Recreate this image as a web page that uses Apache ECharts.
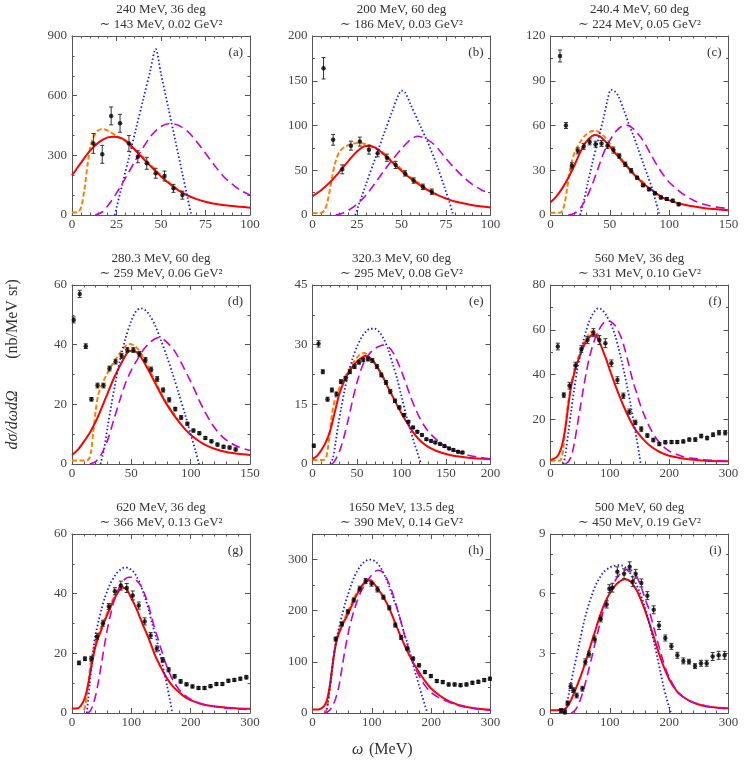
<!DOCTYPE html>
<html><head><meta charset="utf-8">
<script src="https://cdn.jsdelivr.net/npm/echarts@6/dist/echarts.min.js"></script>
<style>html,body{margin:0;padding:0;background:#fff}#c{width:747px;height:761px}</style>
</head><body><div id="c"></div>
<script>
// ---------- titles ----------
const titles1 = ['240 MeV, 36 deg','200 MeV, 60 deg','240.4 MeV, 60 deg','280.3 MeV, 60 deg','320.3 MeV, 60 deg','560 MeV, 36 deg','620 MeV, 36 deg','1650 MeV, 13.5 deg','500 MeV, 60 deg'];
const titles2 = ['∼ 143 MeV, 0.02 GeV²','∼ 186 MeV, 0.03 GeV²','∼ 224 MeV, 0.05 GeV²','∼ 259 MeV, 0.06 GeV²','∼ 295 MeV, 0.08 GeV²','∼ 331 MeV, 0.10 GeV²','∼ 366 MeV, 0.13 GeV²','∼ 390 MeV, 0.14 GeV²','∼ 450 MeV, 0.19 GeV²'];
const letters = ['(a)','(b)','(c)','(d)','(e)','(f)','(g)','(h)','(i)'];
const xMaxs = [100,100,150,150,200,300,300,300,300];
const xInts = [25,25,50,50,50,100,100,100,100];
const yMaxs = [900,200,120,60,45,80,60,350,9];
const yInts = [300,50,30,20,15,20,20,100,3];
const yMinors = [3,2,2,2,2,2,2,2,3];

// ---------- (a) ----------
const a_x = [12,17,22,27,32,37,42,47,52,57,62];
const a_y = [360,305,498,461,360,293,260,210,196,134,100];
const a_err = [50,45,45,45,40,30,30,25,25,20,20];
const a_red = [[0,200],[5,262],[10,322],[15,365],[20,390],[24,394],[28,385],[32,360],[36,322],[40,284],[45,238],[50,194],[55,156],[60,123],[65,98],[70,80],[75,67],[80,57],[90,45],[100,37]];
const a_orange = [[0,13],[3,14],[5,35],[7,130],[9,270],[11,365],[14,420],[17,432],[20,424],[25,398],[30,372],[35,330],[40,290],[45,244],[50,200],[55,160],[60,126],[65,100]];
const a_blue = [[24,0],[28,145],[32,290],[36,436],[40,581],[44,726],[47,835],[50,710],[54,543],[58,376],[62,209],[65,84],[67,0]];
const a_mag = [[13,0],[17,15],[20,45],[25,110],[30,185],[35,265],[40,340],[45,405],[50,445],[55,460],[60,450],[65,420],[70,370],[75,310],[80,250],[85,195],[90,155],[95,122],[100,100]];

// ---------- (b) ----------
const b_x = [6.2,11.6,16.7,21.6,26.6,31.7,36.6,41.8,46.7,52,56.8,62,67];
const b_y = [164,84,51,77.5,82,73,69,64,56,46.5,38.5,31.5,26];
const b_err = [12,6,5,5,5,5,4,4,4,3,3,3,3];
const b_red = [[0,21],[5,28],[10,37],[15,48],[20,60],[25,71],[30,77],[35,75.5],[40,68],[45,58.5],[50,49.5],[55,41],[60,34],[65,27.5],[70,22.5],[75,18.5],[80,15],[90,11],[100,8.5]];
const b_orange = [[0,2],[5,2.5],[7,6],[9,20],[11,42],[13,60],[15,70],[18,76],[22,79.5],[26,80.5],[30,79],[35,75.5],[40,69],[45,60],[50,51],[55,42],[60,35],[65,28.3],[70,23]];
const b_blue = [[24,0],[30,34],[35,62],[40,90],[45,117],[48,133],[50,139],[52,137],[55,124],[60,102],[65,80],[70,55],[74,32],[77,14],[79,0]];
const b_mag = [[13,0],[16,1.5],[20,5],[25,12],[30,22],[35,35],[40,49],[45,62],[50,74],[55,84],[59,88],[63,86],[67,81],[71,73],[75,63],[80,52],[85,42],[90,34],[95,28],[100,23.5]];

// ---------- (c) ----------
const c_x = [8,13,18,23,28,33,38,43,48,53,58,63,68,73,78,83,88,93,98,103,108];
const c_y = [106.6,60,33,43,46,49,47.5,48,46.5,43.5,39.5,34,29.7,25,20,17.2,14.5,11.8,10.7,9.6,7.2];
const c_err = [4,2,2,2,2,2,2,2,2,2,1.5,1.5,1.5,1,1,1,1,1,1,1,1];
const c_red = [[0,8.5],[5,12.5],[10,18],[15,25],[20,33],[25,42],[30,49],[35,53],[38,53.7],[42,52.5],[46,49.5],[50,46],[55,41],[60,36.5],[65,32],[70,27.5],[75,23.5],[80,20],[85,17],[90,14],[95,11.5],[100,9.8],[110,7.4],[120,5.8],[130,4.6],[140,3.8],[150,3.2]];
const c_orange = [[0,1.5],[8,1.5],[10,3],[12,8],[14,18],[16,28],[18,36],[20,41],[25,49],[30,54],[35,56.3],[38,56.5],[42,55],[46,52],[50,48],[55,42.5],[60,37.5],[65,32.5],[70,28],[75,24],[80,20.5]];
const c_blue = [[25,0],[28,9],[31,20],[35,34],[40,50],[45,66],[48,77],[51,84],[54,83],[57,80],[62,70],[66,61],[70,53],[74,44],[78,35],[82,26],[86,17],[89,8],[92,0]];
const c_mag = [[15,0],[20,1],[25,4.5],[30,11],[35,20],[40,31],[45,42],[50,50],[55,56],[60,59.5],[63,60.3],[67,59.5],[72,56],[78,50],[85,40],[90,33],[95,27],[100,22],[105,18.5],[110,15],[120,10],[130,7],[140,5.3],[150,4.3]];

// ---------- (d) ----------
const d_x = [1.4,6.5,11.6,16.4,21.5,26.6,31.6,36.7,41.8,46.6,51.7,56.8,61.9,66.7,71.8,76.8,81.9,87,92,97.2,102.3,107.3,112.4,117.5,122.6,127.7,132.8,137.9];
const d_y = [48.3,57,39.5,21.7,26.3,26.3,32,34.3,36.2,38.2,38.2,36.9,34.9,31.7,28.5,24.8,21.5,18.4,15.6,13.5,11.2,10.3,8.7,7.6,6.5,5.8,5.5,4.9];
const d_err = [1,1.2,0.8,0.6,0.8,0.8,0.8,0.8,0.8,0.8,0.8,0.8,0.8,0.8,0.8,0.7,0.7,0.6,0.6,0.5,0.5,0.5,0.5,0.5,0.5,0.5,0.5,0.5];
const d_red = [[0,3],[5,4.8],[10,7.5],[15,10.5],[20,14.2],[25,18.8],[30,23.7],[35,28.5],[40,32.6],[45,36.3],[48,37.8],[52,38],[56,36.9],[60,34.6],[65,31],[70,27.2],[75,23.4],[80,19.9],[85,16.9],[90,14.2],[95,11.8],[100,9.8],[105,8.2],[110,6.9],[115,5.9],[120,5.1],[130,4],[140,3.4],[150,3]];
const d_orange = [[0,1.2],[10,1.2],[14,1.5],[16,4],[18,11],[20,18],[22,23],[25,26.5],[30,30.5],[35,34],[40,37],[45,39.5],[48,40.2],[52,39.8],[56,38.3],[60,35.8],[65,31.8],[70,27.8],[75,23.8],[80,20.2],[85,17.2],[90,14.5]];
const d_blue = [[24,0],[27,5],[30,12.5],[33,19.5],[36,26],[40,34],[45,42],[50,48],[54,51.2],[58,52.2],[62,51.5],[66,49.5],[70,46.5],[75,41.5],[80,36],[85,30],[90,23.5],[95,17],[100,10],[104,4.5],[107,0]];
const d_mag = [[15,0],[20,0.8],[25,3.5],[30,8],[35,14.5],[40,21],[45,27],[50,31.5],[55,35],[60,38.2],[65,40.5],[70,42],[73,42.3],[77,41.8],[82,40],[87,37.5],[92,34],[97,30],[102,26],[107,21.5],[112,17.5],[117,14],[122,11.2],[127,9],[132,7.5],[140,5.8],[150,4.5]];

// ---------- (e) ----------
const e_x = [1.5,6.8,11.6,16.9,21.8,27,31.9,37.1,42,47.3,52.2,57,62.3,67.2,72.4,77.3,82.6,87.4,92.7,97.6,102.8,107.7,113,117.8,123,128,133.2,138,143.3,148.2,153.5,158.3,163.6,168.5];
const e_y = [4.6,30.2,23.2,16.3,18.6,17.6,20.7,21.5,23.2,24.5,25.6,26.2,26.4,26,24.5,22.4,20.5,18.2,15.9,14.2,12.3,10.6,9.2,8.1,7.3,6.2,5.8,5.4,5,4.5,3.9,3.5,3.1,2.9];
const e_err = [0.4,0.8,0.5,0.5,0.5,0.5,0.5,0.5,0.5,0.5,0.5,0.5,0.5,0.5,0.5,0.5,0.5,0.5,0.4,0.4,0.4,0.3,0.3,0.3,0.3,0.3,0.3,0.3,0.3,0.3,0.3,0.3,0.3,0.3];
const e_red = [[0,1.3],[5,2],[10,3.5],[15,5.5],[20,8.5],[25,13],[30,17.5],[35,20.5],[40,22.8],[45,24.5],[50,25.8],[55,26.7],[60,27.2],[65,26.6],[70,25.3],[75,23.5],[80,21.5],[85,19.2],[90,17],[95,14.8],[100,12.7],[105,10.8],[110,9],[115,7.4],[120,6.1],[125,5.1],[130,4.3],[140,3.2],[150,2.5],[160,2],[175,1.6],[200,1.2]];
const e_orange = [[0,1],[12,1],[15,1.5],[17,3.5],[19,7],[21,11],[23,14],[26,16.8],[30,19],[35,21.3],[40,23.3],[45,25.2],[50,26.8],[55,27.7],[58,27.9],[62,27.4],[66,26.3],[70,25.4],[75,23.6],[80,21.7],[85,19.4]];
const e_blue = [[20,0],[23,1.5],[26,5.5],[29,10],[32,13.8],[36,18.5],[40,22.5],[45,26.5],[50,29.5],[55,31.8],[60,33.3],[65,34],[70,34],[75,33.2],[80,31.5],[85,28.8],[90,25.3],[95,21.5],[100,17],[105,12.5],[110,8.5],[115,4.8],[118,2.8],[122,0]];
const e_mag = [[22,0],[25,0.8],[30,3],[35,6.5],[40,11],[45,16],[50,20.5],[55,24],[60,26.5],[65,28],[70,29],[75,29.6],[80,29.9],[85,29.5],[90,28.2],[95,26],[100,23.3],[105,20.2],[110,17],[115,14.2],[120,11.8],[125,9.8],[130,8.2],[140,6],[150,4.4],[160,3.3],[175,2.2],[200,1.3]];

// ---------- (f) ----------
const f_x = [12.3,22.4,32,42,52,62.3,72.3,82.4,92.5,102.6,112.7,122.8,132.9,143,153,163.2,173.3,183.4,193.5,204,213.7,223.8,233.9,244,254,264,274,284,294.5];
const f_y = [52.5,30.8,35,44,51.4,55.4,58.7,55.4,54,45,37.5,30.5,23.4,18.6,15.6,12.7,10.7,8.9,9.7,9.8,9.8,10.1,10.9,10.9,12.5,11.6,13.1,14,14];
const f_err = [1.5,1,1.5,1.5,1.5,1.5,1.8,2,2,1.5,1.5,1.2,1.2,1,1,0.8,0.8,0.7,0.7,0.7,0.7,0.7,0.7,0.8,0.8,0.8,0.8,1,1];
const f_red = [[0,1.8],[10,3],[15,5],[20,9],[25,16],[30,26],[35,35],[40,40.5],[45,45],[50,48.7],[55,52],[60,54.7],[65,56.5],[70,57.6],[75,57.6],[80,56],[85,53],[90,49.5],[95,46],[100,42],[105,38.3],[110,34.6],[115,31.2],[120,27.9],[125,24.8],[130,21.9],[135,19.2],[140,16.7],[145,14.7],[150,13],[160,10],[170,7.7],[180,6],[190,4.6],[200,3.7],[220,2.6],[240,1.9],[260,1.5],[300,1.2]];
const f_orange = [[0,1.5],[15,1.5],[19,3],[22,8],[25,16],[28,24],[32,31],[36,37],[40,41.5],[45,46],[50,50],[55,53.3],[60,56],[65,58],[70,59.3],[74,59.5],[78,58.5],[82,56.5]];
const f_blue = [[22,0],[25,4],[30,14],[35,24],[40,33.5],[45,42],[50,48.5],[55,54.5],[60,59.5],[65,63.5],[70,66.5],[75,68.5],[80,69.6],[85,69.3],[90,68],[95,66],[100,63.5],[105,60.5],[110,56.5],[115,51.5],[120,46],[125,40],[130,33.5],[135,26.5],[140,19],[145,11.5],[150,3.5],[152,0]];
const f_mag = [[25,0],[30,1],[35,3.5],[40,9],[45,17],[50,25],[55,33],[60,40.5],[65,47],[70,52],[75,56],[80,59],[85,61.5],[90,63.2],[95,64],[100,63.8],[105,63],[110,61.5],[115,59],[120,56],[125,51.5],[130,46.5],[135,41],[140,36],[145,32],[150,27.5],[160,20.5],[170,15],[180,10.7],[190,7.8],[200,5.8],[220,3.6],[240,2.5],[260,1.9],[300,1.2]];

// ---------- (g) ----------
const g_x = [11.8,21.8,32.5,42,52,62,72.2,82.3,92.3,102.4,112.5,122.5,132.6,142.7,152.8,162.8,172.9,183,193,203,213.2,223.3,233.4,243.4,253.5,263.6,273.6,283.7,293.8];
const g_y = [16.8,18.2,18.2,25.6,30.1,35.7,40.8,42.7,41.9,39.4,36,30.7,26,21.5,17.8,14.5,12.3,10.6,9.6,8.9,8.4,8.4,9,9.7,9.7,10.8,11.1,11.5,12];
const g_err = [0.6,0.6,0.8,1,1,1,1.2,1.5,1.5,1.5,1.2,1.2,1,1,0.8,0.7,0.6,0.6,0.5,0.5,0.5,0.5,0.5,0.5,0.5,0.5,0.5,0.5,0.6];
const g_red = [[0,1.5],[10,1.6],[15,2.5],[20,4.2],[25,7.5],[30,12.6],[35,18],[40,22.6],[45,25.6],[50,28.2],[55,30.8],[60,33.2],[65,35.5],[70,37.7],[75,39.6],[80,41.2],[85,42],[90,41.8],[95,40.5],[100,38.5],[105,36.5],[110,34.3],[115,31.8],[120,29.3],[125,27],[130,24.6],[135,22],[140,19.3],[145,17.2],[150,15.2],[160,11.6],[170,8.9],[180,7],[190,5.4],[200,4.3],[215,3.2],[230,2.5],[250,2],[275,1.6],[300,1.4]];
const g_orange = [[20,1],[22,2],[25,6],[28,11],[31,16],[35,20],[40,24],[45,27],[50,29.2],[55,31.5],[60,34],[65,36.3],[70,38.5],[75,40.3],[80,41.6],[85,42.2],[90,42],[95,40.8]];
const g_blue = [[25,0],[27,4],[30,10],[33,16],[36,21.5],[40,26.5],[45,31],[50,35],[55,38.5],[60,41.2],[65,43.5],[70,45.3],[75,46.8],[80,47.8],[85,48.5],[90,48.8],[95,48.6],[100,48],[105,47],[110,45.3],[115,43.2],[120,40.5],[125,37.5],[130,34],[135,30],[140,26.5],[145,22.5],[150,18.3],[155,14],[160,9.3],[165,4.5],[169,0]];
const g_mag = [[25,0],[30,0.5],[35,2.5],[40,6],[45,11],[50,17],[55,23],[60,28.5],[65,33],[70,37],[75,40],[80,42.3],[85,44],[90,45],[95,45.5],[100,45.5],[105,45],[110,44.2],[115,43],[120,41],[125,38.5],[130,35.3],[135,31.5],[140,28],[145,24.8],[150,21.5],[160,15.5],[170,11],[180,8],[190,6],[200,4.6],[220,3],[240,2.2],[260,1.6],[300,1.1]];

// ---------- (h) ----------
const h_x = [39,49.5,59.5,69.5,79.5,89.5,99.5,109.5,119.5,129.5,139.5,149.5,159.5,169.5,179.5,189.5,199.5,209.5,219.5,229.5,239.5,249.5,259.5,269.5,279.5,289.5,299];
const h_y = [144.5,174,198,221,243,258,253,241.6,226.5,205.5,172,147.7,126,106.4,93.2,80,72.2,62.4,60.4,55.8,55.8,54.5,55.8,59,61,64.3,67];
const h_err = [4,4,4,4,5,5,5,5,4,4,4,4,3,3,3,3,3,3,3,3,3,3,3,3,3,3,3];
const h_red = [[0,6.6],[10,7],[15,9],[20,14],[25,28],[30,60],[35,104],[40,138],[45,157],[50,171],[55,183],[60,194],[65,207],[70,220],[75,232],[80,243],[85,251],[90,257],[95,259],[100,257],[105,251],[110,243],[115,235],[120,226],[125,215],[130,203],[135,189],[140,174],[145,160],[150,146],[155,133],[160,120],[165,109],[170,98],[175,88],[180,79],[190,62],[200,48],[210,38],[220,29.5],[230,23],[240,18.4],[250,14.5],[260,11.8],[280,8.5],[300,6.6]];
const h_orange = [[20,0],[23,5],[26,20],[30,55],[34,95],[38,130],[45,162],[55,187],[65,212],[75,236],[85,252],[95,261],[105,255]];
const h_blue = [[23,0],[26,20],[29,47],[32,75],[35,105],[40,140],[45,168],[50,192],[55,214],[60,232],[65,250],[70,265],[75,277],[80,286],[85,293],[90,297.5],[95,300],[100,299.5],[105,297],[110,292],[115,284],[120,273],[125,260],[130,245],[135,228],[140,212],[145,194],[150,175],[155,155],[160,136],[165,115],[170,93],[175,72],[180,52],[185,32],[190,13],[194,0]];
const h_mag = [[20,0],[25,2],[30,7],[35,16],[40,32],[45,55],[50,90],[55,125],[60,155],[65,180],[70,200],[75,218],[80,233],[85,245],[90,255],[95,263],[100,270],[105,276],[110,279],[115,278],[120,273],[125,263],[130,250],[135,234],[140,215],[145,195],[150,175],[155,153],[160,133],[165,114],[170,97],[180,72],[190,53],[200,40],[210,32],[220,26],[240,17],[260,11],[280,7.5],[300,5]];

// ---------- (i) ----------
const i_x = [17.7,24.4,28.9,34,38.5,44.1,53.7,58.7,64.9,74.4,84.6,94.7,99.2,104.2,112.6,124,133.4,138.5,143.5,153.1,163.2,173.9,182.9,193.5,203.7,213.8,223.9,233.4,243.5,253.7,263.2,273.3,283.4,293.5];
const i_y = [0.12,0.05,0.5,1.35,1.15,0.88,1.22,2.57,2.96,3.72,4.73,5.46,6.25,6.3,7.1,7.0,7.35,6.6,7.0,6.54,5.9,5.19,4.4,3.77,3.35,2.9,2.62,2.58,2.36,2.5,2.5,2.84,2.9,2.9];
const i_err = [0.1,0.1,0.1,0.12,0.12,0.12,0.12,0.15,0.15,0.15,0.15,0.18,0.2,0.22,0.25,0.25,0.25,0.25,0.22,0.2,0.2,0.2,0.2,0.15,0.15,0.15,0.15,0.12,0.12,0.15,0.15,0.2,0.2,0.2];
const i_red = [[0,0.14],[15,0.15],[25,0.22],[30,0.39],[35,0.68],[40,1.02],[45,1.4],[50,1.78],[55,2.2],[60,2.66],[65,3.15],[70,3.64],[75,4.1],[80,4.58],[85,5.02],[90,5.42],[95,5.75],[100,6.02],[105,6.25],[110,6.44],[115,6.58],[120,6.68],[125,6.73],[130,6.7],[135,6.6],[140,6.42],[145,6.18],[150,5.87],[155,5.5],[160,5.1],[165,4.66],[170,4.2],[175,3.73],[180,3.25],[185,2.8],[190,2.4],[195,2.03],[200,1.7],[205,1.44],[210,1.22],[215,1.02],[225,0.78],[235,0.6],[250,0.43],[270,0.3],[300,0.24]];
const i_orange = [];
const i_blue = [[22,0],[25,0.15],[28,0.5],[31,1],[35,1.6],[40,2.3],[45,3],[50,3.7],[55,4.4],[60,5],[65,5.5],[70,5.95],[75,6.35],[80,6.65],[85,6.9],[90,7.1],[95,7.22],[100,7.32],[105,7.38],[110,7.42],[115,7.44],[120,7.42],[125,7.35],[130,7.2],[135,7],[140,6.75],[145,6.45],[150,6.1],[155,5.7],[160,5.25],[165,4.7],[170,4.1],[175,3.5],[180,2.8],[185,2.1],[190,1.4],[195,0.8],[200,0.3],[203,0]];
const i_mag = [[35,0],[40,0.1],[45,0.3],[50,0.65],[55,1.1],[60,1.65],[65,2.25],[70,2.85],[75,3.5],[80,4.1],[85,4.7],[90,5.2],[95,5.65],[100,6.05],[105,6.4],[110,6.7],[115,6.92],[120,7.08],[125,7.18],[130,7.22],[135,7.2],[140,7.1],[145,6.88],[150,6.55],[155,6.15],[160,5.68],[165,5.3],[170,4.75],[175,4.2],[180,3.65],[185,3.1],[190,2.6],[195,2.15],[200,1.8],[210,1.25],[220,0.9],[235,0.6],[250,0.45],[270,0.3],[300,0.2]];

// ---------- assemble ----------
const pX = [a_x,b_x,c_x,d_x,e_x,f_x,g_x,h_x,i_x];
const pY = [a_y,b_y,c_y,d_y,e_y,f_y,g_y,h_y,i_y];
const pE = [a_err,b_err,c_err,d_err,e_err,f_err,g_err,h_err,i_err];
const pRed = [a_red,b_red,c_red,d_red,e_red,f_red,g_red,h_red,i_red];
const pOr = [a_orange,b_orange,c_orange,d_orange,e_orange,f_orange,g_orange,h_orange,i_orange];
const pBlue = [a_blue,b_blue,c_blue,d_blue,e_blue,f_blue,g_blue,h_blue,i_blue];
const pMag = [a_mag,b_mag,c_mag,d_mag,e_mag,f_mag,g_mag,h_mag,i_mag];

const FONT = "'Liberation Serif','DejaVu Serif',serif";
const lefts = [72,312.5,550.5], tops = [36,285,534], W = 178, H = 179;
const AX = '#555', TXT = '#333';

const grid = [], xAxis = [], yAxis = [], series = [], graphic = [];

function renderErr(params, api){
  const x = api.value(0), lo = api.value(1), hi = api.value(2);
  const a = api.coord([x,lo]), b = api.coord([x,hi]);
  const cw = 2, st = {stroke:'#333', lineWidth:1};
  return {type:'group', children:[
    {type:'line', shape:{x1:a[0],y1:a[1],x2:b[0],y2:b[1]}, style:st},
    {type:'line', shape:{x1:a[0]-cw,y1:a[1],x2:a[0]+cw,y2:a[1]}, style:st},
    {type:'line', shape:{x1:b[0]-cw,y1:b[1],x2:b[0]+cw,y2:b[1]}, style:st}
  ]};
}

for (let i = 0; i < 9; i++) {
  const L = lefts[i%3], T = tops[Math.floor(i/3)];
  grid.push({left:L, top:T, width:W, height:H, outerBoundsMode:'none', containLabel:false});
  const baseX = {
    type:'value', gridIndex:i, min:0, max:xMaxs[i], interval:xInts[i],
    axisLine:{show:true, onZero:false, lineStyle:{color:AX, width:1}},
    axisTick:{show:true, inside:true, length:5, lineStyle:{color:AX}},
    minorTick:{show:true, splitNumber:5, length:2.5, lineStyle:{color:AX}},
    splitLine:{show:false}, minorSplitLine:{show:false}
  };
  xAxis.push(Object.assign({}, baseX, {position:'bottom',
    axisLabel:{show:true, color:'#444', fontFamily:FONT, fontSize:13, margin:3, showMinLabel:true, showMaxLabel:true, hideOverlap:false}}));
  xAxis.push(Object.assign({}, baseX, {position:'top', axisLabel:{show:false}}));
  const baseY = {
    type:'value', gridIndex:i, min:0, max:yMaxs[i], interval:yInts[i],
    axisLine:{show:true, onZero:false, lineStyle:{color:AX, width:1}},
    axisTick:{show:true, inside:true, length:5, lineStyle:{color:AX}},
    minorTick:{show:true, splitNumber:yMinors[i], length:2.5, lineStyle:{color:AX}},
    splitLine:{show:false}, minorSplitLine:{show:false}
  };
  const showMax = (yMaxs[i] % yInts[i]) === 0;
  yAxis.push(Object.assign({}, baseY, {position:'left',
    axisLabel:{show:true, color:'#444', fontFamily:FONT, fontSize:13, margin:5, showMinLabel:true, showMaxLabel:showMax, hideOverlap:false}}));
  yAxis.push(Object.assign({}, baseY, {position:'right', axisLabel:{show:false}}));

  const xi = 2*i, yi = 2*i;
  const lineBase = {type:'line', xAxisIndex:xi, yAxisIndex:yi, symbol:'none', smooth:0.3, clip:true, silent:true, animation:false};
  if (pOr[i].length) series.push(Object.assign({}, lineBase, {data:pOr[i], z:2,
    lineStyle:{color:'#ff8000', width:2, type:[5,2.5]}}));
  series.push(Object.assign({}, lineBase, {data:pRed[i], z:3,
    lineStyle:{color:'#ff0000', width:2, type:'solid'}}));
  series.push(Object.assign({}, lineBase, {data:pBlue[i], z:4,
    lineStyle:{color:'#1a1aff', width:1.8, type:[1.5,2.3], cap:'butt'}}));
  series.push(Object.assign({}, lineBase, {data:pMag[i], z:4,
    lineStyle:{color:'#cc00cc', width:1.6, type:[9,5]}}));
  series.push({type:'custom', xAxisIndex:xi, yAxisIndex:yi, renderItem:renderErr, z:5, silent:true, animation:false,
    encode:{x:0, y:[1,2]},
    data:pX[i].map((v,k)=>[v, pY[i][k]-pE[i][k], pY[i][k]+pE[i][k]])});
  series.push({type:'scatter', xAxisIndex:xi, yAxisIndex:yi, symbol:'circle', symbolSize:4.5, z:6, silent:true, animation:false,
    itemStyle:{color:'#000'}, data:pX[i].map((v,k)=>[v, pY[i][k]])});

  const cx = L + W/2;
  graphic.push({type:'text', x:cx, y:T-26, silent:true, style:{text:titles1[i], font:'13px '+FONT, fill:TXT, align:'center', verticalAlign:'middle'}});
  graphic.push({type:'text', x:cx, y:T-11, silent:true, style:{text:titles2[i], font:'13px '+FONT, fill:TXT, align:'center', verticalAlign:'middle'}});
  graphic.push({type:'text', x:L+W-7, y:T+17, silent:true, style:{text:letters[i], font:'13px '+FONT, fill:TXT, align:'right', verticalAlign:'middle'}});
}

graphic.push({type:'text', x:13, y:420, rotation:Math.PI/2, silent:true, style:{text:'dσ/dωdΩ', font:'italic 16px '+FONT, fill:TXT, align:'center', verticalAlign:'middle'}});
graphic.push({type:'text', x:13, y:319, rotation:Math.PI/2, silent:true, style:{text:'(nb/MeV sr)', font:'16px '+FONT, fill:TXT, align:'center', verticalAlign:'middle'}});
graphic.push({type:'text', x:352, y:750, silent:true, style:{text:'ω', font:'italic 16px '+FONT, fill:TXT, align:'left', verticalAlign:'middle'}});
graphic.push({type:'text', x:369, y:750, silent:true, style:{text:'(MeV)', font:'16px '+FONT, fill:TXT, align:'left', verticalAlign:'middle'}});

const chart = echarts.init(document.getElementById('c'), null, {renderer:'canvas'});
chart.setOption({backgroundColor:'#fff', animation:false, grid, xAxis, yAxis, series, graphic});
</script></body></html>
